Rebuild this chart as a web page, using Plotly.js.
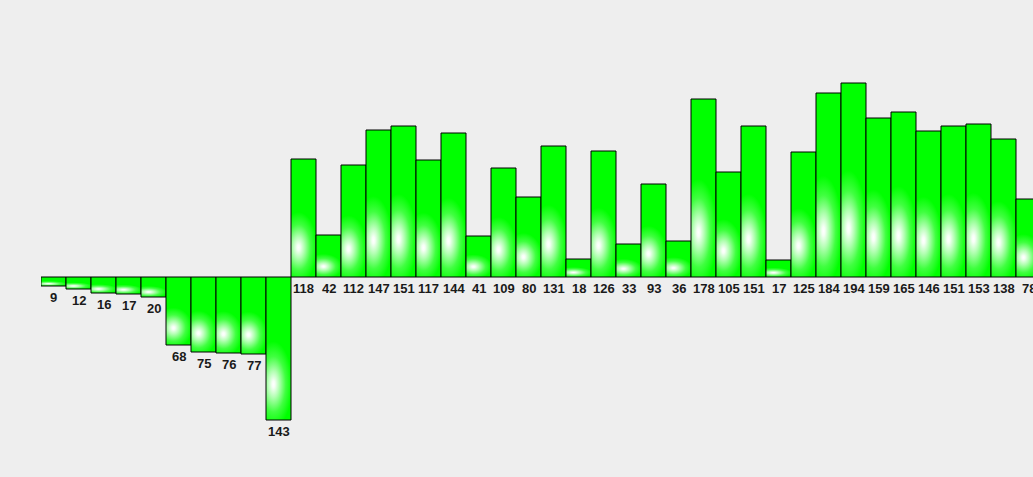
<!DOCTYPE html>
<html>
<head>
<meta charset="utf-8">
<script src="https://cdn.plot.ly/plotly-3.0.1.min.js"></script>
<style>
html,body{margin:0;padding:0;background:#eeeeee;overflow:hidden;}
#chart{width:1033px;height:477px;}
</style>
</head>
<body>
<div id="chart"></div>
<script>
var categories = ["A1","A2","A3","A4","A5","A6","A7","A8","A9","A10",
  "B1","B2","B3","B4","B5","B6","B7","B8","B9","B10",
  "B11","B12","B13","B14","B15","B16","B17","B18","B19","B20",
  "B21","B22","B23","B24","B25","B26","B27","B28","B29","B30"];
var values = [-9,-12,-16,-17,-20,-68,-75,-76,-77,-143,
  118,42,112,147,151,117,144,41,109,80,
  131,18,126,33,93,36,178,105,151,17,
  125,184,194,159,165,146,151,153,138,78];
var labels = values.map(function(v){ return String(Math.abs(v)); });

var trace = {
  type: 'bar',
  x: categories,
  y: values,
  width: 1,
  marker: {color: '#00ff00', line: {color: '#000000', width: 1}},
  hoverinfo: 'none'
};

var annotations = categories.map(function(c, i){
  return {
    x: c, y: values[i] < 0 ? values[i] : 0,
    xref: 'x', yref: 'y',
    text: labels[i],
    showarrow: false,
    yanchor: 'top', xanchor: 'center',
    yshift: -2,
    font: {family: 'Liberation Sans, Arial, sans-serif', size: 13, color: '#1a1a1a', weight: 'bold'}
  };
});

var layout = {
  width: 1033, height: 477,
  margin: {l: 41, r: 0, t: 0, b: 0, pad: 0},
  paper_bgcolor: '#eeeeee',
  plot_bgcolor: '#eeeeee',
  showlegend: false,
  bargap: 0,
  xaxis: {type: 'category', range: [-0.5, -0.5 + 992/25], showgrid: false, zeroline: false,
          showticklabels: false, showline: false, ticks: ''},
  yaxis: {range: [-200, 277], showgrid: false, zeroline: false, showticklabels: false,
          showline: false, ticks: ''},
  annotations: annotations
};

function applyGradient(){
  var gd = document.getElementById('chart');
  var svg = gd.querySelector('svg.main-svg');
  if (!svg) return;
  var ns = 'http://www.w3.org/2000/svg';
  if (!document.getElementById('barglow')) {
    var defs = svg.querySelector('defs');
    if (!defs) { defs = document.createElementNS(ns, 'defs'); svg.insertBefore(defs, svg.firstChild); }
    var g = document.createElementNS(ns, 'radialGradient');
    g.setAttribute('id', 'barglow');
    g.setAttribute('cx', '0'); g.setAttribute('cy', '0');
    g.setAttribute('fx', '0'); g.setAttribute('fy', '0');
    g.setAttribute('r', '1');
    g.setAttribute('gradientTransform', 'translate(0.3,0.75) scale(0.75,0.3)');
    var stops = [[0, '#ffffff'], [0.08, '#f6fff6'], [0.3, '#b4ffb4'], [0.65, '#40ff40'], [1, '#00ff00']];
    stops.forEach(function(s){
      var st = document.createElementNS(ns, 'stop');
      st.setAttribute('offset', s[0]);
      st.setAttribute('stop-color', s[1]);
      g.appendChild(st);
    });
    defs.appendChild(g);
  }
  gd.querySelectorAll('.bars .point path').forEach(function(p){
    p.style.fill = 'url(#barglow)';
  });
}

Plotly.newPlot('chart', [trace], layout, {displayModeBar: false, staticPlot: true}).then(function(gd){
  applyGradient();
  gd.on('plotly_afterplot', applyGradient);
});
</script>
</body>
</html>
